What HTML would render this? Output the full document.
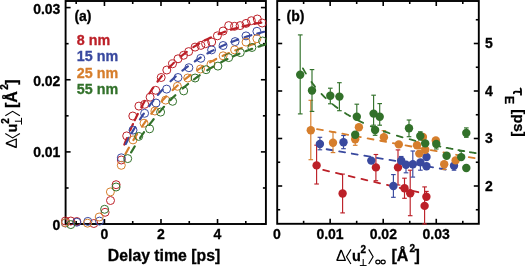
<!DOCTYPE html><html><head><meta charset="utf-8"><style>html,body{margin:0;padding:0;background:#fff;overflow:hidden}svg{display:block;will-change:transform}</style></head><body>
<svg width="525" height="266" viewBox="0 0 525 266">
<rect x="65.6" y="1.0" width="200.29999999999998" height="223.0" fill="none" stroke="#000" stroke-width="1.9"/>
<line x1="65.6" y1="224.05" x2="70.6" y2="224.05" stroke="#000" stroke-width="1.6"/><line x1="265.9" y1="224.05" x2="260.9" y2="224.05" stroke="#000" stroke-width="1.6"/><line x1="65.6" y1="187.98" x2="68.6" y2="187.98" stroke="#000" stroke-width="1.6"/><line x1="265.9" y1="187.98" x2="262.9" y2="187.98" stroke="#000" stroke-width="1.6"/><line x1="65.6" y1="151.90" x2="70.6" y2="151.90" stroke="#000" stroke-width="1.6"/><line x1="265.9" y1="151.90" x2="260.9" y2="151.90" stroke="#000" stroke-width="1.6"/><line x1="65.6" y1="115.83" x2="68.6" y2="115.83" stroke="#000" stroke-width="1.6"/><line x1="265.9" y1="115.83" x2="262.9" y2="115.83" stroke="#000" stroke-width="1.6"/><line x1="65.6" y1="79.75" x2="70.6" y2="79.75" stroke="#000" stroke-width="1.6"/><line x1="265.9" y1="79.75" x2="260.9" y2="79.75" stroke="#000" stroke-width="1.6"/><line x1="65.6" y1="43.68" x2="68.6" y2="43.68" stroke="#000" stroke-width="1.6"/><line x1="265.9" y1="43.68" x2="262.9" y2="43.68" stroke="#000" stroke-width="1.6"/><line x1="65.6" y1="7.60" x2="70.6" y2="7.60" stroke="#000" stroke-width="1.6"/><line x1="265.9" y1="7.60" x2="260.9" y2="7.60" stroke="#000" stroke-width="1.6"/><line x1="76.18" y1="224.0" x2="76.18" y2="221.0" stroke="#000" stroke-width="1.6"/><line x1="76.18" y1="1.0" x2="76.18" y2="4.0" stroke="#000" stroke-width="1.6"/><line x1="104.45" y1="224.0" x2="104.45" y2="219.0" stroke="#000" stroke-width="1.6"/><line x1="104.45" y1="1.0" x2="104.45" y2="6.0" stroke="#000" stroke-width="1.6"/><line x1="132.72" y1="224.0" x2="132.72" y2="221.0" stroke="#000" stroke-width="1.6"/><line x1="132.72" y1="1.0" x2="132.72" y2="4.0" stroke="#000" stroke-width="1.6"/><line x1="160.99" y1="224.0" x2="160.99" y2="219.0" stroke="#000" stroke-width="1.6"/><line x1="160.99" y1="1.0" x2="160.99" y2="6.0" stroke="#000" stroke-width="1.6"/><line x1="189.26" y1="224.0" x2="189.26" y2="221.0" stroke="#000" stroke-width="1.6"/><line x1="189.26" y1="1.0" x2="189.26" y2="4.0" stroke="#000" stroke-width="1.6"/><line x1="217.53" y1="224.0" x2="217.53" y2="219.0" stroke="#000" stroke-width="1.6"/><line x1="217.53" y1="1.0" x2="217.53" y2="6.0" stroke="#000" stroke-width="1.6"/><line x1="245.80" y1="224.0" x2="245.80" y2="221.0" stroke="#000" stroke-width="1.6"/><line x1="245.80" y1="1.0" x2="245.80" y2="4.0" stroke="#000" stroke-width="1.6"/>
<rect x="277.2" y="1.0" width="201.60000000000002" height="222.8" fill="none" stroke="#000" stroke-width="1.9"/>
<line x1="277.2" y1="209.75" x2="280.2" y2="209.75" stroke="#000" stroke-width="1.6"/><line x1="478.8" y1="209.75" x2="475.8" y2="209.75" stroke="#000" stroke-width="1.6"/><line x1="277.2" y1="186.00" x2="282.2" y2="186.00" stroke="#000" stroke-width="1.6"/><line x1="478.8" y1="186.00" x2="473.8" y2="186.00" stroke="#000" stroke-width="1.6"/><line x1="277.2" y1="162.25" x2="280.2" y2="162.25" stroke="#000" stroke-width="1.6"/><line x1="478.8" y1="162.25" x2="475.8" y2="162.25" stroke="#000" stroke-width="1.6"/><line x1="277.2" y1="138.50" x2="282.2" y2="138.50" stroke="#000" stroke-width="1.6"/><line x1="478.8" y1="138.50" x2="473.8" y2="138.50" stroke="#000" stroke-width="1.6"/><line x1="277.2" y1="114.75" x2="280.2" y2="114.75" stroke="#000" stroke-width="1.6"/><line x1="478.8" y1="114.75" x2="475.8" y2="114.75" stroke="#000" stroke-width="1.6"/><line x1="277.2" y1="91.00" x2="282.2" y2="91.00" stroke="#000" stroke-width="1.6"/><line x1="478.8" y1="91.00" x2="473.8" y2="91.00" stroke="#000" stroke-width="1.6"/><line x1="277.2" y1="67.25" x2="280.2" y2="67.25" stroke="#000" stroke-width="1.6"/><line x1="478.8" y1="67.25" x2="475.8" y2="67.25" stroke="#000" stroke-width="1.6"/><line x1="277.2" y1="43.50" x2="282.2" y2="43.50" stroke="#000" stroke-width="1.6"/><line x1="478.8" y1="43.50" x2="473.8" y2="43.50" stroke="#000" stroke-width="1.6"/><line x1="277.2" y1="19.75" x2="280.2" y2="19.75" stroke="#000" stroke-width="1.6"/><line x1="478.8" y1="19.75" x2="475.8" y2="19.75" stroke="#000" stroke-width="1.6"/><line x1="303.63" y1="223.8" x2="303.63" y2="220.8" stroke="#000" stroke-width="1.6"/><line x1="303.63" y1="1.0" x2="303.63" y2="4.0" stroke="#000" stroke-width="1.6"/><line x1="330.15" y1="223.8" x2="330.15" y2="218.8" stroke="#000" stroke-width="1.6"/><line x1="330.15" y1="1.0" x2="330.15" y2="6.0" stroke="#000" stroke-width="1.6"/><line x1="356.68" y1="223.8" x2="356.68" y2="220.8" stroke="#000" stroke-width="1.6"/><line x1="356.68" y1="1.0" x2="356.68" y2="4.0" stroke="#000" stroke-width="1.6"/><line x1="383.21" y1="223.8" x2="383.21" y2="218.8" stroke="#000" stroke-width="1.6"/><line x1="383.21" y1="1.0" x2="383.21" y2="6.0" stroke="#000" stroke-width="1.6"/><line x1="409.74" y1="223.8" x2="409.74" y2="220.8" stroke="#000" stroke-width="1.6"/><line x1="409.74" y1="1.0" x2="409.74" y2="4.0" stroke="#000" stroke-width="1.6"/><line x1="436.26" y1="223.8" x2="436.26" y2="218.8" stroke="#000" stroke-width="1.6"/><line x1="436.26" y1="1.0" x2="436.26" y2="6.0" stroke="#000" stroke-width="1.6"/><line x1="462.79" y1="223.8" x2="462.79" y2="220.8" stroke="#000" stroke-width="1.6"/><line x1="462.79" y1="1.0" x2="462.79" y2="4.0" stroke="#000" stroke-width="1.6"/>
<text x="60.4" y="230.4" font-family="Liberation Sans, sans-serif" font-weight="bold" stroke="#000" stroke-width="0.3" font-size="14" text-anchor="end">0</text>
<text x="60.4" y="157.0" font-family="Liberation Sans, sans-serif" font-weight="bold" stroke="#000" stroke-width="0.3" font-size="14" text-anchor="end">0.01</text>
<text x="60.4" y="85.5" font-family="Liberation Sans, sans-serif" font-weight="bold" stroke="#000" stroke-width="0.3" font-size="14" text-anchor="end">0.02</text>
<text x="60.4" y="13.8" font-family="Liberation Sans, sans-serif" font-weight="bold" stroke="#000" stroke-width="0.3" font-size="14" text-anchor="end">0.03</text>
<text x="104.5" y="239.4" font-family="Liberation Sans, sans-serif" font-weight="bold" stroke="#000" stroke-width="0.3" font-size="14" text-anchor="middle">0</text>
<text x="161.0" y="239.4" font-family="Liberation Sans, sans-serif" font-weight="bold" stroke="#000" stroke-width="0.3" font-size="14" text-anchor="middle">2</text>
<text x="217.5" y="239.4" font-family="Liberation Sans, sans-serif" font-weight="bold" stroke="#000" stroke-width="0.3" font-size="14" text-anchor="middle">4</text>
<text x="164" y="261.3" font-family="Liberation Sans, sans-serif" font-weight="bold" stroke="#000" stroke-width="0.3" font-size="15.8" text-anchor="middle">Delay time [ps]</text>
<text x="277" y="239.4" font-family="Liberation Sans, sans-serif" font-weight="bold" stroke="#000" stroke-width="0.3" font-size="14" text-anchor="middle">0</text>
<text x="330" y="239.4" font-family="Liberation Sans, sans-serif" font-weight="bold" stroke="#000" stroke-width="0.3" font-size="14" text-anchor="middle">0.01</text>
<text x="383.3" y="239.4" font-family="Liberation Sans, sans-serif" font-weight="bold" stroke="#000" stroke-width="0.3" font-size="14" text-anchor="middle">0.02</text>
<text x="436.2" y="239.4" font-family="Liberation Sans, sans-serif" font-weight="bold" stroke="#000" stroke-width="0.3" font-size="14" text-anchor="middle">0.03</text>
<text x="485" y="190.7" font-family="Liberation Sans, sans-serif" font-weight="bold" stroke="#000" stroke-width="0.3" font-size="14">2</text>
<text x="485" y="143.2" font-family="Liberation Sans, sans-serif" font-weight="bold" stroke="#000" stroke-width="0.3" font-size="14">3</text>
<text x="485" y="95.7" font-family="Liberation Sans, sans-serif" font-weight="bold" stroke="#000" stroke-width="0.3" font-size="14">4</text>
<text x="485" y="48.2" font-family="Liberation Sans, sans-serif" font-weight="bold" stroke="#000" stroke-width="0.3" font-size="14">5</text>
<text x="74.4" y="20.9" font-family="Liberation Sans, sans-serif" font-weight="bold" stroke="#000" stroke-width="0.3" font-size="14">(a)</text>
<text x="286.6" y="20.9" font-family="Liberation Sans, sans-serif" font-weight="bold" stroke="#000" stroke-width="0.3" font-size="14">(b)</text>
<text x="76.8" y="44.5" font-family="Liberation Sans, sans-serif" font-weight="bold" stroke="#bc2028" stroke-width="0.3" font-size="14.3" fill="#bc2028">8 nm</text>
<text x="76.8" y="61.3" font-family="Liberation Sans, sans-serif" font-weight="bold" stroke="#39499f" stroke-width="0.3" font-size="14.3" fill="#39499f">15 nm</text>
<text x="76.8" y="77.9" font-family="Liberation Sans, sans-serif" font-weight="bold" stroke="#d67e2c" stroke-width="0.3" font-size="14.3" fill="#d67e2c">25 nm</text>
<text x="76.8" y="94.0" font-family="Liberation Sans, sans-serif" font-weight="bold" stroke="#32712a" stroke-width="0.3" font-size="14.3" fill="#32712a">55 nm</text>
<g transform="translate(16.9,148.1) rotate(-90)"><path d="M4.9,-10.9 L0.8,-0.6 M4.9,-10.9 L9.1,-0.6 M0.4,-0.65 L9.5,-0.65" fill="none" stroke="#000" stroke-width="1.3" stroke-linejoin="miter"/><path d="M4.4,-11.2 L0.3,-0.6" stroke="#000" stroke-width="0.8"/><polyline points="14.6,-11.6 10.2,-4.3 14.6,3" fill="none" stroke="#000" stroke-width="1.15"/><text x="15.6" y="0" font-family="Liberation Sans, sans-serif" font-weight="bold" stroke="#000" stroke-width="0.3" font-size="14.5">u</text><text x="24.3" y="-8.3" font-family="Liberation Sans, sans-serif" font-weight="bold" stroke="#000" stroke-width="0.3" font-size="10">2</text><line x1="26.9" y1="-2" x2="26.9" y2="4.6" stroke="#000" stroke-width="1.05"/><line x1="23.5" y1="4.6" x2="30.3" y2="4.6" stroke="#000" stroke-width="1.05"/><polyline points="32.4,-11.6 36.8,-4.3 32.4,3" fill="none" stroke="#000" stroke-width="1.15"/><text x="40.1" y="0" font-family="Liberation Sans, sans-serif" font-weight="bold" stroke="#000" stroke-width="0.3" font-size="16">[Å</text><text x="58.3" y="-8.6" font-family="Liberation Sans, sans-serif" font-weight="bold" stroke="#000" stroke-width="0.3" font-size="10">2</text><text x="63.3" y="0" font-family="Liberation Sans, sans-serif" font-weight="bold" stroke="#000" stroke-width="0.3" font-size="16">]</text></g>
<g transform="translate(336.3,261)"><path d="M4.9,-10.9 L0.8,-0.6 M4.9,-10.9 L9.1,-0.6 M0.4,-0.65 L9.5,-0.65" fill="none" stroke="#000" stroke-width="1.3" stroke-linejoin="miter"/><path d="M4.4,-11.2 L0.3,-0.6" stroke="#000" stroke-width="0.8"/><polyline points="14.6,-11.6 10.2,-4.3 14.6,3" fill="none" stroke="#000" stroke-width="1.15"/><text x="15.6" y="0" font-family="Liberation Sans, sans-serif" font-weight="bold" stroke="#000" stroke-width="0.3" font-size="14.5">u</text><text x="24.3" y="-8.3" font-family="Liberation Sans, sans-serif" font-weight="bold" stroke="#000" stroke-width="0.3" font-size="10">2</text><line x1="26.9" y1="-2" x2="26.9" y2="4.6" stroke="#000" stroke-width="1.05"/><line x1="23.5" y1="4.6" x2="30.3" y2="4.6" stroke="#000" stroke-width="1.05"/><polyline points="32.4,-11.6 36.8,-4.3 32.4,3" fill="none" stroke="#000" stroke-width="1.15"/><ellipse cx="41.6" cy="1" rx="2.1" ry="1.85" fill="none" stroke="#000" stroke-width="1.2"/><ellipse cx="46.8" cy="1" rx="2.1" ry="1.85" fill="none" stroke="#000" stroke-width="1.2"/><text x="55.1" y="0" font-family="Liberation Sans, sans-serif" font-weight="bold" stroke="#000" stroke-width="0.3" font-size="16">[Å</text><text x="73.3" y="-8.6" font-family="Liberation Sans, sans-serif" font-weight="bold" stroke="#000" stroke-width="0.3" font-size="10">2</text><text x="78.3" y="0" font-family="Liberation Sans, sans-serif" font-weight="bold" stroke="#000" stroke-width="0.3" font-size="16">]</text></g>
<g transform="translate(513.7,87.6) rotate(90)"><path d="M0.5,-6.2 C0.8,-7.1 1.5,-7.3 2.5,-7.3 L7.8,-7.3 M4.4,-7.3 L4,-2.2 C3.9,-0.4 4.8,0.1 6.3,-0.3" fill="none" stroke="#000" stroke-width="1.8"/><text x="8.4" y="8.4" font-family="Liberation Sans, sans-serif" font-weight="bold" stroke="#000" stroke-width="0.3" font-size="12.3">E</text><text x="21.7" y="0" font-family="Liberation Sans, sans-serif" font-weight="bold" stroke="#000" stroke-width="0.3" font-size="15">[ps]</text></g>
<g>
<path d="M124.35,144.57 L124.71,143.64 L125.08,142.70 L125.44,141.77 L125.81,140.84 L126.18,139.91 L126.55,138.99 L126.93,138.06M130.13,130.41 L130.53,129.50 L130.93,128.58 L131.33,127.67 L131.74,126.75 L132.14,125.84 L132.56,124.93 L132.97,124.02M134.76,120.17 L135.19,119.26 L135.63,118.36 L136.06,117.46 L136.50,116.56 L136.94,115.67 L137.39,114.77 L137.84,113.88M141.30,107.24 L141.78,106.36 L142.26,105.48 L142.74,104.61 L143.23,103.74 L143.72,102.86 L144.21,102.00 L144.71,101.13M149.39,93.40 L149.92,92.56 L150.46,91.72 L151.01,90.88 L151.56,90.04 L152.11,89.21 L152.67,88.38 L153.23,87.56M157.54,81.53 L158.14,80.73 L158.74,79.93 L159.35,79.14 L159.97,78.35 L160.58,77.57 L161.21,76.78 L161.84,76.01M168.98,67.81 L169.66,67.08 L170.35,66.36 L171.05,65.64 L171.75,64.92 L172.46,64.22 L173.17,63.51 L173.88,62.81M181.23,56.19 L182.00,55.55 L182.78,54.91 L183.56,54.29 L184.34,53.67 L185.13,53.05 L185.92,52.44 L186.72,51.84M193.31,47.20 L194.14,46.65 L194.99,46.11 L195.83,45.58 L196.68,45.05 L197.53,44.53 L198.39,44.02 L199.25,43.51M204.67,40.51 L205.55,40.04 L206.44,39.59 L207.34,39.14 L208.23,38.70 L209.13,38.26 L210.04,37.83 L210.94,37.41M218.62,34.11 L219.55,33.74 L220.48,33.38 L221.41,33.02 L222.35,32.67 L223.29,32.33 L224.23,31.99 L225.17,31.66M230.94,29.75 L231.90,29.46 L232.85,29.17 L233.81,28.88 L234.77,28.60 L235.73,28.33 L236.70,28.06 L237.66,27.79M242.59,26.51 L243.56,26.28 L244.54,26.04 L245.51,25.81 L246.48,25.59 L247.46,25.37 L248.43,25.15 L249.41,24.94M254.40,23.91 L255.39,23.72 L256.37,23.54 L257.35,23.35 L258.33,23.17 L259.32,23.00 L260.30,22.82 L261.29,22.66" fill="none" stroke="#bc2028" stroke-width="2.2" stroke-linecap="round"/>
<circle cx="65.4" cy="221.0" r="4.0" fill="none" stroke="#bc2028" stroke-width="1.0"/>
<circle cx="70.8" cy="221.0" r="4.0" fill="none" stroke="#bc2028" stroke-width="1.0"/>
<circle cx="76.8" cy="221.5" r="4.0" fill="none" stroke="#bc2028" stroke-width="1.0"/>
<circle cx="93.8" cy="223.5" r="4.0" fill="none" stroke="#bc2028" stroke-width="1.0"/>
<circle cx="105.1" cy="212.3" r="4.0" fill="none" stroke="#bc2028" stroke-width="1.0"/>
<circle cx="110.5" cy="200.5" r="4.0" fill="none" stroke="#bc2028" stroke-width="1.0"/>
<circle cx="116.1" cy="184.7" r="4.0" fill="none" stroke="#bc2028" stroke-width="1.0"/>
<circle cx="121.3" cy="160.0" r="4.0" fill="none" stroke="#bc2028" stroke-width="1.0"/>
<circle cx="126.7" cy="135.9" r="4.0" fill="none" stroke="#bc2028" stroke-width="1.0"/>
<circle cx="132.8" cy="116.0" r="4.0" fill="none" stroke="#bc2028" stroke-width="1.0"/>
<circle cx="138.9" cy="106.1" r="4.0" fill="none" stroke="#bc2028" stroke-width="1.0"/>
<circle cx="144.7" cy="104.3" r="4.0" fill="none" stroke="#bc2028" stroke-width="1.0"/>
<circle cx="150.1" cy="97.2" r="4.0" fill="none" stroke="#bc2028" stroke-width="1.0"/>
<circle cx="155.7" cy="90.3" r="4.0" fill="none" stroke="#bc2028" stroke-width="1.0"/>
<circle cx="161.2" cy="77.5" r="4.0" fill="none" stroke="#bc2028" stroke-width="1.0"/>
<circle cx="166.8" cy="70.0" r="4.0" fill="none" stroke="#bc2028" stroke-width="1.0"/>
<circle cx="172.5" cy="63.8" r="4.0" fill="none" stroke="#bc2028" stroke-width="1.0"/>
<circle cx="178.0" cy="58.8" r="4.0" fill="none" stroke="#bc2028" stroke-width="1.0"/>
<circle cx="183.5" cy="55.3" r="4.0" fill="none" stroke="#bc2028" stroke-width="1.0"/>
<circle cx="188.7" cy="51.6" r="4.0" fill="none" stroke="#bc2028" stroke-width="1.0"/>
<circle cx="195.1" cy="47.1" r="4.0" fill="none" stroke="#bc2028" stroke-width="1.0"/>
<circle cx="200.9" cy="45.4" r="4.0" fill="none" stroke="#bc2028" stroke-width="1.0"/>
<circle cx="205.6" cy="43.7" r="4.0" fill="none" stroke="#bc2028" stroke-width="1.0"/>
<circle cx="211.7" cy="42.0" r="4.0" fill="none" stroke="#bc2028" stroke-width="1.0"/>
<circle cx="217.4" cy="35.8" r="4.0" fill="none" stroke="#bc2028" stroke-width="1.0"/>
<circle cx="223.1" cy="31.0" r="4.0" fill="none" stroke="#bc2028" stroke-width="1.0"/>
<circle cx="228.7" cy="25.6" r="4.0" fill="none" stroke="#bc2028" stroke-width="1.0"/>
<circle cx="234.5" cy="26.3" r="4.0" fill="none" stroke="#bc2028" stroke-width="1.0"/>
<circle cx="240.1" cy="25.6" r="4.0" fill="none" stroke="#bc2028" stroke-width="1.0"/>
<circle cx="246.1" cy="23.4" r="4.0" fill="none" stroke="#bc2028" stroke-width="1.0"/>
<circle cx="251.4" cy="20.7" r="4.0" fill="none" stroke="#bc2028" stroke-width="1.0"/>
<circle cx="257.3" cy="19.0" r="4.0" fill="none" stroke="#bc2028" stroke-width="1.0"/>
<circle cx="262.2" cy="23.0" r="4.0" fill="none" stroke="#bc2028" stroke-width="1.0"/>
<path d="M125.74,143.92 L126.21,143.04 L126.67,142.15 L127.14,141.27 L127.62,140.39 L128.09,139.51 L128.57,138.63 L129.05,137.75M131.63,133.13 L132.13,132.26 L132.63,131.39 L133.13,130.53 L133.63,129.67 L134.14,128.80 L134.65,127.94 L135.16,127.09M139.96,119.38 L140.51,118.54 L141.06,117.70 L141.61,116.87 L142.16,116.03 L142.71,115.20 L143.27,114.37 L143.84,113.55M149.17,106.05 L149.77,105.25 L150.37,104.45 L150.97,103.65 L151.58,102.85 L152.19,102.06 L152.80,101.27 L153.42,100.49M157.99,94.89 L158.64,94.12 L159.29,93.36 L159.94,92.61 L160.60,91.85 L161.26,91.10 L161.93,90.36 L162.60,89.61M170.59,81.29 L171.30,80.59 L172.02,79.89 L172.75,79.20 L173.47,78.51 L174.20,77.83 L174.94,77.15 L175.67,76.48M182.40,70.66 L183.17,70.02 L183.95,69.40 L184.73,68.77 L185.51,68.15 L186.30,67.54 L187.09,66.92 L187.89,66.32M194.82,61.33 L195.65,60.76 L196.48,60.21 L197.31,59.65 L198.15,59.11 L198.99,58.56 L199.83,58.02 L200.67,57.49M207.42,53.47 L208.29,52.98 L209.17,52.49 L210.04,52.01 L210.92,51.53 L211.81,51.06 L212.69,50.60 L213.58,50.14M219.71,47.11 L220.61,46.68 L221.52,46.26 L222.43,45.85 L223.34,45.44 L224.26,45.03 L225.17,44.63 L226.09,44.23M231.52,42.00 L232.45,41.63 L233.38,41.27 L234.32,40.91 L235.25,40.56 L236.19,40.21 L237.13,39.87 L238.07,39.53M244.65,37.28 L245.61,36.97 L246.56,36.67 L247.51,36.37 L248.47,36.07 L249.42,35.78 L250.38,35.49 L251.34,35.21M257.31,33.53 L258.27,33.27 L259.24,33.01 L260.21,32.76 L261.18,32.51 L262.15,32.27 L263.12,32.03 L264.09,31.79" fill="none" stroke="#39499f" stroke-width="2.2" stroke-linecap="round"/>
<circle cx="65.4" cy="223.0" r="4.0" fill="none" stroke="#39499f" stroke-width="1.0"/>
<circle cx="76.8" cy="222.2" r="4.0" fill="none" stroke="#39499f" stroke-width="1.0"/>
<circle cx="87.8" cy="221.4" r="4.0" fill="none" stroke="#39499f" stroke-width="1.0"/>
<circle cx="99.5" cy="221.1" r="4.0" fill="none" stroke="#39499f" stroke-width="1.0"/>
<circle cx="121.3" cy="157.8" r="4.0" fill="none" stroke="#39499f" stroke-width="1.0"/>
<circle cx="133.0" cy="130.1" r="4.0" fill="none" stroke="#39499f" stroke-width="1.0"/>
<circle cx="144.6" cy="113.3" r="4.0" fill="none" stroke="#39499f" stroke-width="1.0"/>
<circle cx="156.0" cy="103.0" r="4.0" fill="none" stroke="#39499f" stroke-width="1.0"/>
<circle cx="166.6" cy="89.1" r="4.0" fill="none" stroke="#39499f" stroke-width="1.0"/>
<circle cx="178.0" cy="77.5" r="4.0" fill="none" stroke="#39499f" stroke-width="1.0"/>
<circle cx="188.9" cy="67.7" r="4.0" fill="none" stroke="#39499f" stroke-width="1.0"/>
<circle cx="200.8" cy="58.3" r="4.0" fill="none" stroke="#39499f" stroke-width="1.0"/>
<circle cx="211.6" cy="49.9" r="4.0" fill="none" stroke="#39499f" stroke-width="1.0"/>
<circle cx="223.1" cy="45.5" r="4.0" fill="none" stroke="#39499f" stroke-width="1.0"/>
<circle cx="235.1" cy="41.6" r="4.0" fill="none" stroke="#39499f" stroke-width="1.0"/>
<circle cx="246.0" cy="35.9" r="4.0" fill="none" stroke="#39499f" stroke-width="1.0"/>
<circle cx="256.9" cy="31.3" r="4.0" fill="none" stroke="#39499f" stroke-width="1.0"/>
<path d="M125.55,153.81 L126.02,152.93 L126.50,152.05 L126.98,151.18 L127.46,150.30 L127.95,149.43 L128.44,148.55 L128.93,147.68M133.42,139.99 L133.94,139.14 L134.46,138.28 L134.98,137.43 L135.51,136.58 L136.04,135.73 L136.57,134.89 L137.10,134.04M141.99,126.60 L142.55,125.78 L143.12,124.95 L143.69,124.13 L144.27,123.31 L144.84,122.49 L145.42,121.68 L146.00,120.87M151.33,113.74 L151.95,112.95 L152.57,112.16 L153.19,111.38 L153.81,110.60 L154.44,109.82 L155.07,109.04 L155.71,108.27M161.51,101.52 L162.18,100.78 L162.86,100.04 L163.53,99.30 L164.21,98.57 L164.90,97.84 L165.58,97.11 L166.27,96.39M172.58,90.10 L173.30,89.41 L174.03,88.73 L174.76,88.05 L175.50,87.37 L176.24,86.70 L176.98,86.03 L177.73,85.36M184.97,79.25 L185.75,78.63 L186.54,78.01 L187.33,77.39 L188.12,76.78 L188.92,76.18 L189.71,75.58 L190.52,74.98M197.17,70.28 L198.00,69.72 L198.83,69.17 L199.67,68.62 L200.51,68.08 L201.35,67.54 L202.20,67.01 L203.05,66.48M210.06,62.33 L210.93,61.85 L211.81,61.36 L212.69,60.89 L213.57,60.41 L214.45,59.94 L215.34,59.48 L216.22,59.02M222.56,55.90 L223.46,55.47 L224.37,55.05 L225.28,54.64 L226.19,54.23 L227.11,53.82 L228.02,53.42 L228.94,53.02M235.27,50.42 L236.20,50.05 L237.14,49.69 L238.07,49.34 L239.01,48.99 L239.95,48.64 L240.88,48.30 L241.83,47.96M248.30,45.74 L249.25,45.43 L250.21,45.12 L251.16,44.82 L252.11,44.52 L253.07,44.23 L254.03,43.94 L254.98,43.65" fill="none" stroke="#d67e2c" stroke-width="2.2" stroke-linecap="round"/>
<circle cx="65.4" cy="222.8" r="4.0" fill="none" stroke="#d67e2c" stroke-width="1.0"/>
<circle cx="87.5" cy="223.2" r="4.0" fill="none" stroke="#d67e2c" stroke-width="1.0"/>
<circle cx="99.2" cy="217.0" r="4.0" fill="none" stroke="#d67e2c" stroke-width="1.0"/>
<circle cx="110.4" cy="191.9" r="4.0" fill="none" stroke="#d67e2c" stroke-width="1.0"/>
<circle cx="121.3" cy="165.3" r="4.0" fill="none" stroke="#d67e2c" stroke-width="1.0"/>
<circle cx="133.0" cy="139.9" r="4.0" fill="none" stroke="#d67e2c" stroke-width="1.0"/>
<circle cx="144.0" cy="123.2" r="4.0" fill="none" stroke="#d67e2c" stroke-width="1.0"/>
<circle cx="154.9" cy="111.0" r="4.0" fill="none" stroke="#d67e2c" stroke-width="1.0"/>
<circle cx="165.7" cy="100.1" r="4.0" fill="none" stroke="#d67e2c" stroke-width="1.0"/>
<circle cx="177.4" cy="86.3" r="4.0" fill="none" stroke="#d67e2c" stroke-width="1.0"/>
<circle cx="187.7" cy="78.0" r="4.0" fill="none" stroke="#d67e2c" stroke-width="1.0"/>
<circle cx="200.5" cy="69.0" r="4.0" fill="none" stroke="#d67e2c" stroke-width="1.0"/>
<circle cx="211.0" cy="64.3" r="4.0" fill="none" stroke="#d67e2c" stroke-width="1.0"/>
<circle cx="223.1" cy="55.8" r="4.0" fill="none" stroke="#d67e2c" stroke-width="1.0"/>
<circle cx="234.6" cy="49.9" r="4.0" fill="none" stroke="#d67e2c" stroke-width="1.0"/>
<circle cx="246.0" cy="42.1" r="4.0" fill="none" stroke="#d67e2c" stroke-width="1.0"/>
<circle cx="256.9" cy="38.7" r="4.0" fill="none" stroke="#d67e2c" stroke-width="1.0"/>
<path d="M131.13,152.42 L131.64,151.56 L132.15,150.70 L132.66,149.84 L133.18,148.98 L133.69,148.13 L134.21,147.27 L134.74,146.42M140.08,138.04 L140.63,137.20 L141.19,136.37 L141.75,135.54 L142.31,134.71 L142.87,133.89 L143.44,133.06 L144.01,132.24M149.37,124.79 L149.97,123.99 L150.57,123.19 L151.17,122.39 L151.78,121.60 L152.39,120.81 L153.01,120.02 L153.62,119.23M159.44,112.12 L160.09,111.36 L160.74,110.60 L161.39,109.85 L162.05,109.10 L162.71,108.35 L163.38,107.60 L164.05,106.86M170.34,100.17 L171.04,99.45 L171.74,98.74 L172.45,98.04 L173.16,97.33 L173.88,96.63 L174.59,95.94 L175.31,95.24M182.70,88.51 L183.46,87.85 L184.22,87.20 L184.98,86.55 L185.75,85.91 L186.52,85.27 L187.29,84.64 L188.06,84.01M194.01,79.37 L194.81,78.77 L195.62,78.18 L196.42,77.59 L197.23,77.00 L198.05,76.42 L198.86,75.84 L199.68,75.27M207.25,70.25 L208.10,69.72 L208.95,69.19 L209.80,68.67 L210.65,68.15 L211.51,67.64 L212.37,67.13 L213.23,66.62M221.17,62.22 L222.06,61.76 L222.95,61.30 L223.84,60.84 L224.73,60.39 L225.63,59.94 L226.52,59.50 L227.42,59.06M233.04,56.44 L233.95,56.03 L234.87,55.62 L235.78,55.22 L236.70,54.83 L237.62,54.43 L238.54,54.04 L239.46,53.66M245.61,51.21 L246.54,50.86 L247.48,50.50 L248.42,50.16 L249.36,49.81 L250.30,49.47 L251.24,49.14 L252.18,48.80M258.45,46.69 L259.40,46.38 L260.36,46.08 L261.31,45.78 L262.26,45.49 L263.22,45.19 L264.18,44.90 L265.14,44.62" fill="none" stroke="#32712a" stroke-width="2.2" stroke-linecap="round"/>
<circle cx="70.8" cy="224.6" r="4.0" fill="none" stroke="#32712a" stroke-width="1.0"/>
<circle cx="104.6" cy="209.3" r="4.0" fill="none" stroke="#32712a" stroke-width="1.0"/>
<circle cx="116.1" cy="187.0" r="4.0" fill="none" stroke="#32712a" stroke-width="1.0"/>
<circle cx="127.7" cy="158.6" r="4.0" fill="none" stroke="#32712a" stroke-width="1.0"/>
<circle cx="138.7" cy="136.4" r="4.0" fill="none" stroke="#32712a" stroke-width="1.0"/>
<circle cx="149.6" cy="128.8" r="4.0" fill="none" stroke="#32712a" stroke-width="1.0"/>
<circle cx="160.6" cy="112.1" r="4.0" fill="none" stroke="#32712a" stroke-width="1.0"/>
<circle cx="172.6" cy="101.3" r="4.0" fill="none" stroke="#32712a" stroke-width="1.0"/>
<circle cx="183.7" cy="90.9" r="4.0" fill="none" stroke="#32712a" stroke-width="1.0"/>
<circle cx="195.1" cy="78.0" r="4.0" fill="none" stroke="#32712a" stroke-width="1.0"/>
<circle cx="206.1" cy="69.7" r="4.0" fill="none" stroke="#32712a" stroke-width="1.0"/>
<circle cx="217.9" cy="66.1" r="4.0" fill="none" stroke="#32712a" stroke-width="1.0"/>
<circle cx="228.7" cy="57.6" r="4.0" fill="none" stroke="#32712a" stroke-width="1.0"/>
<circle cx="240.3" cy="52.6" r="4.0" fill="none" stroke="#32712a" stroke-width="1.0"/>
<circle cx="251.9" cy="47.5" r="4.0" fill="none" stroke="#32712a" stroke-width="1.0"/>
<circle cx="262.6" cy="41.0" r="4.0" fill="none" stroke="#32712a" stroke-width="1.0"/>
</g>
<polyline points="323.20,169.93 418.50,192.29" fill="none" stroke="#bc2028" stroke-width="1.8" stroke-dasharray="6 7.1" stroke-linecap="round"/>
<line x1="316.6" y1="145.2" x2="316.6" y2="165.4" stroke="#bc2028" stroke-width="1.15"/><line x1="314.3" y1="145.2" x2="318.9" y2="145.2" stroke="#bc2028" stroke-width="1.15"/><line x1="316.6" y1="165.4" x2="316.6" y2="184.0" stroke="#bc2028" stroke-width="1.15"/><line x1="314.3" y1="184.0" x2="318.9" y2="184.0" stroke="#bc2028" stroke-width="1.15"/>
<line x1="342.6" y1="174.1" x2="342.6" y2="193.5" stroke="#bc2028" stroke-width="1.15"/><line x1="340.3" y1="174.1" x2="344.9" y2="174.1" stroke="#bc2028" stroke-width="1.15"/><line x1="342.6" y1="193.5" x2="342.6" y2="212.9" stroke="#bc2028" stroke-width="1.15"/><line x1="340.3" y1="212.9" x2="344.9" y2="212.9" stroke="#bc2028" stroke-width="1.15"/>
<line x1="375.9" y1="154.5" x2="375.9" y2="167.4" stroke="#bc2028" stroke-width="1.15"/><line x1="373.6" y1="154.5" x2="378.2" y2="154.5" stroke="#bc2028" stroke-width="1.15"/><line x1="375.9" y1="167.4" x2="375.9" y2="180.7" stroke="#bc2028" stroke-width="1.15"/><line x1="373.6" y1="180.7" x2="378.2" y2="180.7" stroke="#bc2028" stroke-width="1.15"/>
<line x1="398.0" y1="149.9" x2="398.0" y2="167.4" stroke="#bc2028" stroke-width="1.15"/><line x1="395.7" y1="149.9" x2="400.3" y2="149.9" stroke="#bc2028" stroke-width="1.15"/><line x1="398.0" y1="167.4" x2="398.0" y2="185.0" stroke="#bc2028" stroke-width="1.15"/><line x1="395.7" y1="185.0" x2="400.3" y2="185.0" stroke="#bc2028" stroke-width="1.15"/>
<line x1="404.5" y1="178.2" x2="404.5" y2="188.3" stroke="#bc2028" stroke-width="1.15"/><line x1="402.2" y1="178.2" x2="406.8" y2="178.2" stroke="#bc2028" stroke-width="1.15"/><line x1="404.5" y1="188.3" x2="404.5" y2="198.3" stroke="#bc2028" stroke-width="1.15"/><line x1="402.2" y1="198.3" x2="406.8" y2="198.3" stroke="#bc2028" stroke-width="1.15"/>
<line x1="410.2" y1="170.2" x2="410.2" y2="193.3" stroke="#bc2028" stroke-width="1.15"/><line x1="407.9" y1="170.2" x2="412.5" y2="170.2" stroke="#bc2028" stroke-width="1.15"/><line x1="410.2" y1="193.3" x2="410.2" y2="215.7" stroke="#bc2028" stroke-width="1.15"/><line x1="407.9" y1="215.7" x2="412.5" y2="215.7" stroke="#bc2028" stroke-width="1.15"/>
<line x1="426.4" y1="191.4" x2="426.4" y2="196.8" stroke="#bc2028" stroke-width="1.15"/><line x1="424.1" y1="191.4" x2="428.7" y2="191.4" stroke="#bc2028" stroke-width="1.15"/>
<line x1="424.6" y1="186.9" x2="424.6" y2="205.9" stroke="#bc2028" stroke-width="1.15"/><line x1="422.3" y1="186.9" x2="426.9" y2="186.9" stroke="#bc2028" stroke-width="1.15"/><line x1="424.6" y1="205.9" x2="424.6" y2="224.0" stroke="#bc2028" stroke-width="1.15"/><line x1="422.3" y1="224.0" x2="426.9" y2="224.0" stroke="#bc2028" stroke-width="1.15"/>
<circle cx="316.6" cy="165.4" r="4.2" fill="#bc2028"/>
<circle cx="342.6" cy="193.5" r="4.2" fill="#bc2028"/>
<circle cx="375.9" cy="167.4" r="4.2" fill="#bc2028"/>
<circle cx="398.0" cy="167.4" r="4.2" fill="#bc2028"/>
<circle cx="404.5" cy="188.3" r="4.2" fill="#bc2028"/>
<circle cx="410.2" cy="193.3" r="4.2" fill="#bc2028"/>
<circle cx="426.4" cy="196.8" r="4.2" fill="#bc2028"/>
<circle cx="424.6" cy="205.9" r="4.2" fill="#bc2028"/>
<polyline points="326.60,149.25 446.00,169.57" fill="none" stroke="#39499f" stroke-width="1.8" stroke-dasharray="6 6.75" stroke-linecap="round"/>
<line x1="319.9" y1="137.3" x2="319.9" y2="144.0" stroke="#39499f" stroke-width="1.15"/><line x1="317.6" y1="137.3" x2="322.2" y2="137.3" stroke="#39499f" stroke-width="1.15"/><line x1="319.9" y1="144.0" x2="319.9" y2="149.8" stroke="#39499f" stroke-width="1.15"/><line x1="317.6" y1="149.8" x2="322.2" y2="149.8" stroke="#39499f" stroke-width="1.15"/>
<line x1="343.5" y1="135.5" x2="343.5" y2="142.2" stroke="#39499f" stroke-width="1.15"/><line x1="341.2" y1="135.5" x2="345.8" y2="135.5" stroke="#39499f" stroke-width="1.15"/><line x1="343.5" y1="142.2" x2="343.5" y2="148.7" stroke="#39499f" stroke-width="1.15"/><line x1="341.2" y1="148.7" x2="345.8" y2="148.7" stroke="#39499f" stroke-width="1.15"/>

<line x1="393.4" y1="174.6" x2="393.4" y2="186.0" stroke="#39499f" stroke-width="1.15"/><line x1="391.1" y1="174.6" x2="395.7" y2="174.6" stroke="#39499f" stroke-width="1.15"/><line x1="393.4" y1="186.0" x2="393.4" y2="197.3" stroke="#39499f" stroke-width="1.15"/><line x1="391.1" y1="197.3" x2="395.7" y2="197.3" stroke="#39499f" stroke-width="1.15"/>
<line x1="401.2" y1="156.5" x2="401.2" y2="160.8" stroke="#39499f" stroke-width="1.15"/><line x1="398.9" y1="156.5" x2="403.5" y2="156.5" stroke="#39499f" stroke-width="1.15"/>
<line x1="406.0" y1="164.8" x2="406.0" y2="172.8" stroke="#39499f" stroke-width="1.15"/><line x1="403.7" y1="172.8" x2="408.3" y2="172.8" stroke="#39499f" stroke-width="1.15"/>
<line x1="412.8" y1="151.0" x2="412.8" y2="164.3" stroke="#39499f" stroke-width="1.15"/><line x1="410.5" y1="151.0" x2="415.1" y2="151.0" stroke="#39499f" stroke-width="1.15"/><line x1="412.8" y1="164.3" x2="412.8" y2="177.1" stroke="#39499f" stroke-width="1.15"/><line x1="410.5" y1="177.1" x2="415.1" y2="177.1" stroke="#39499f" stroke-width="1.15"/>
<line x1="420.4" y1="162.4" x2="420.4" y2="170.2" stroke="#39499f" stroke-width="1.15"/><line x1="418.1" y1="170.2" x2="422.7" y2="170.2" stroke="#39499f" stroke-width="1.15"/>


<line x1="454.0" y1="165.7" x2="454.0" y2="170.2" stroke="#39499f" stroke-width="1.15"/><line x1="451.7" y1="170.2" x2="456.3" y2="170.2" stroke="#39499f" stroke-width="1.15"/>
<circle cx="319.9" cy="144.0" r="4.2" fill="#39499f"/>
<circle cx="343.5" cy="142.2" r="4.2" fill="#39499f"/>
<circle cx="371.3" cy="160.6" r="4.2" fill="#39499f"/>
<circle cx="393.4" cy="186.0" r="4.2" fill="#39499f"/>
<circle cx="401.2" cy="160.8" r="4.2" fill="#39499f"/>
<circle cx="406.0" cy="164.8" r="4.2" fill="#39499f"/>
<circle cx="412.8" cy="164.3" r="4.2" fill="#39499f"/>
<circle cx="420.4" cy="162.4" r="4.2" fill="#39499f"/>
<circle cx="426.5" cy="157.0" r="4.2" fill="#39499f"/>
<circle cx="426.5" cy="166.2" r="4.2" fill="#39499f"/>
<circle cx="454.0" cy="165.7" r="4.2" fill="#39499f"/>
<polyline points="317.00,129.06 477.50,158.72" fill="none" stroke="#d67e2c" stroke-width="1.8" stroke-dasharray="6 6.86" stroke-linecap="round"/>
<line x1="310.8" y1="100.3" x2="310.8" y2="130.3" stroke="#d67e2c" stroke-width="1.15"/><line x1="308.5" y1="100.3" x2="313.1" y2="100.3" stroke="#d67e2c" stroke-width="1.15"/><line x1="310.8" y1="130.3" x2="310.8" y2="159.7" stroke="#d67e2c" stroke-width="1.15"/><line x1="308.5" y1="159.7" x2="313.1" y2="159.7" stroke="#d67e2c" stroke-width="1.15"/>
<line x1="333.0" y1="132.0" x2="333.0" y2="142.8" stroke="#d67e2c" stroke-width="1.15"/><line x1="330.7" y1="132.0" x2="335.3" y2="132.0" stroke="#d67e2c" stroke-width="1.15"/><line x1="333.0" y1="142.8" x2="333.0" y2="152.6" stroke="#d67e2c" stroke-width="1.15"/><line x1="330.7" y1="152.6" x2="335.3" y2="152.6" stroke="#d67e2c" stroke-width="1.15"/>

<line x1="355.2" y1="139.2" x2="355.2" y2="145.3" stroke="#d67e2c" stroke-width="1.15"/><line x1="352.9" y1="145.3" x2="357.5" y2="145.3" stroke="#d67e2c" stroke-width="1.15"/>
<line x1="383.9" y1="130.7" x2="383.9" y2="137.2" stroke="#d67e2c" stroke-width="1.15"/><line x1="381.6" y1="130.7" x2="386.2" y2="130.7" stroke="#d67e2c" stroke-width="1.15"/>






<line x1="444.2" y1="164.2" x2="444.2" y2="169.5" stroke="#d67e2c" stroke-width="1.15"/><line x1="441.9" y1="169.5" x2="446.5" y2="169.5" stroke="#d67e2c" stroke-width="1.15"/>

<circle cx="310.8" cy="130.3" r="4.2" fill="#d67e2c"/>
<circle cx="333.0" cy="142.8" r="4.2" fill="#d67e2c"/>
<circle cx="358.9" cy="127.2" r="4.2" fill="#d67e2c"/>
<circle cx="355.2" cy="139.2" r="4.2" fill="#d67e2c"/>
<circle cx="383.9" cy="137.2" r="4.2" fill="#d67e2c"/>
<circle cx="398.8" cy="144.4" r="4.2" fill="#d67e2c"/>
<circle cx="417.0" cy="145.3" r="4.2" fill="#d67e2c"/>
<circle cx="419.3" cy="153.6" r="4.2" fill="#d67e2c"/>
<circle cx="425.3" cy="149.8" r="4.2" fill="#d67e2c"/>
<circle cx="422.9" cy="137.0" r="4.2" fill="#d67e2c"/>
<circle cx="435.8" cy="140.5" r="4.2" fill="#d67e2c"/>
<circle cx="444.2" cy="164.2" r="4.2" fill="#d67e2c"/>
<circle cx="455.6" cy="160.4" r="4.2" fill="#d67e2c"/>
<path d="M302.91,68.40 L303.32,69.15 L303.74,69.90 L304.17,70.64 L304.60,71.38 L305.03,72.12 L305.47,72.86 L305.91,73.59M311.46,81.93 L311.97,82.62 L312.48,83.31 L312.99,83.99 L313.51,84.68 L314.04,85.35 L314.57,86.03 L315.10,86.70M321.48,93.97 L322.08,94.59 L322.68,95.20 L323.28,95.81 L323.89,96.42 L324.50,97.02 L325.12,97.61 L325.74,98.20M332.78,104.34 L333.45,104.88 L334.12,105.41 L334.80,105.93 L335.48,106.45 L336.16,106.97 L336.85,107.48 L337.54,107.99M345.00,113.05 L345.72,113.50 L346.45,113.95 L347.18,114.40 L347.92,114.84 L348.65,115.28 L349.39,115.71 L350.13,116.14M357.76,120.27 L358.53,120.65 L359.29,121.04 L360.06,121.42 L360.83,121.79 L361.61,122.16 L362.38,122.53 L363.16,122.90M370.78,126.27 L371.57,126.60 L372.36,126.93 L373.15,127.25 L373.95,127.57 L374.75,127.89 L375.54,128.20 L376.34,128.52M383.84,131.30 L384.65,131.59 L385.46,131.87 L386.27,132.15 L387.08,132.43 L387.89,132.70 L388.70,132.98 L389.52,133.25M396.82,135.58 L397.64,135.83 L398.46,136.07 L399.28,136.32 L400.10,136.56 L400.92,136.81 L401.75,137.05 L402.57,137.29M409.63,139.25 L410.45,139.48 L411.28,139.70 L412.11,139.92 L412.94,140.13 L413.77,140.35 L414.60,140.56 L415.43,140.78M422.22,142.46 L423.05,142.66 L423.88,142.86 L424.72,143.06 L425.55,143.25 L426.39,143.45 L427.22,143.64 L428.06,143.84M434.55,145.29 L435.39,145.47 L436.23,145.66 L437.06,145.84 L437.90,146.01 L438.74,146.19 L439.58,146.37 L440.42,146.55M446.61,147.81 L447.45,147.98 L448.29,148.15 L449.13,148.32 L449.97,148.48 L450.81,148.64 L451.65,148.81 L452.50,148.97M458.37,150.08 L459.22,150.24 L460.06,150.39 L460.90,150.55 L461.75,150.70 L462.59,150.86 L463.43,151.01 L464.28,151.16M469.84,152.14 L470.68,152.29 L471.53,152.43 L472.37,152.58 L473.22,152.72 L474.06,152.86 L474.91,153.01 L475.75,153.15" fill="none" stroke="#32712a" stroke-width="1.8" stroke-linecap="round"/>
<line x1="300.2" y1="34.9" x2="300.2" y2="74.7" stroke="#32712a" stroke-width="1.15"/><line x1="297.9" y1="34.9" x2="302.6" y2="34.9" stroke="#32712a" stroke-width="1.15"/><line x1="300.2" y1="74.7" x2="300.2" y2="113.9" stroke="#32712a" stroke-width="1.15"/><line x1="297.9" y1="113.9" x2="302.6" y2="113.9" stroke="#32712a" stroke-width="1.15"/>
<line x1="312.0" y1="69.6" x2="312.0" y2="90.5" stroke="#32712a" stroke-width="1.15"/><line x1="309.7" y1="69.6" x2="314.3" y2="69.6" stroke="#32712a" stroke-width="1.15"/><line x1="312.0" y1="90.5" x2="312.0" y2="111.4" stroke="#32712a" stroke-width="1.15"/><line x1="309.7" y1="111.4" x2="314.3" y2="111.4" stroke="#32712a" stroke-width="1.15"/>
<line x1="330.3" y1="88.2" x2="330.3" y2="95.8" stroke="#32712a" stroke-width="1.15"/><line x1="328.0" y1="88.2" x2="332.6" y2="88.2" stroke="#32712a" stroke-width="1.15"/><line x1="330.3" y1="95.8" x2="330.3" y2="103.8" stroke="#32712a" stroke-width="1.15"/><line x1="328.0" y1="103.8" x2="332.6" y2="103.8" stroke="#32712a" stroke-width="1.15"/>
<line x1="339.4" y1="82.7" x2="339.4" y2="96.6" stroke="#32712a" stroke-width="1.15"/><line x1="337.1" y1="82.7" x2="341.7" y2="82.7" stroke="#32712a" stroke-width="1.15"/><line x1="339.4" y1="96.6" x2="339.4" y2="110.7" stroke="#32712a" stroke-width="1.15"/><line x1="337.1" y1="110.7" x2="341.7" y2="110.7" stroke="#32712a" stroke-width="1.15"/>
<line x1="356.8" y1="104.2" x2="356.8" y2="116.8" stroke="#32712a" stroke-width="1.15"/><line x1="354.5" y1="104.2" x2="359.1" y2="104.2" stroke="#32712a" stroke-width="1.15"/>

<line x1="373.6" y1="95.2" x2="373.6" y2="113.6" stroke="#32712a" stroke-width="1.15"/><line x1="371.3" y1="95.2" x2="375.9" y2="95.2" stroke="#32712a" stroke-width="1.15"/><line x1="373.6" y1="113.6" x2="373.6" y2="125.2" stroke="#32712a" stroke-width="1.15"/><line x1="371.3" y1="125.2" x2="375.9" y2="125.2" stroke="#32712a" stroke-width="1.15"/>
<line x1="379.7" y1="103.6" x2="379.7" y2="116.8" stroke="#32712a" stroke-width="1.15"/><line x1="377.4" y1="103.6" x2="382.0" y2="103.6" stroke="#32712a" stroke-width="1.15"/><line x1="379.7" y1="116.8" x2="379.7" y2="125.2" stroke="#32712a" stroke-width="1.15"/><line x1="377.4" y1="125.2" x2="382.0" y2="125.2" stroke="#32712a" stroke-width="1.15"/>
<line x1="375.1" y1="130.0" x2="375.1" y2="135.3" stroke="#32712a" stroke-width="1.15"/><line x1="372.8" y1="135.3" x2="377.4" y2="135.3" stroke="#32712a" stroke-width="1.15"/>
<line x1="409.0" y1="120.0" x2="409.0" y2="128.3" stroke="#32712a" stroke-width="1.15"/><line x1="406.7" y1="120.0" x2="411.3" y2="120.0" stroke="#32712a" stroke-width="1.15"/><line x1="409.0" y1="128.3" x2="409.0" y2="136.7" stroke="#32712a" stroke-width="1.15"/><line x1="406.7" y1="136.7" x2="411.3" y2="136.7" stroke="#32712a" stroke-width="1.15"/>
<line x1="420.3" y1="131.8" x2="420.3" y2="136.0" stroke="#32712a" stroke-width="1.15"/><line x1="418.0" y1="131.8" x2="422.6" y2="131.8" stroke="#32712a" stroke-width="1.15"/><line x1="420.3" y1="136.0" x2="420.3" y2="140.0" stroke="#32712a" stroke-width="1.15"/><line x1="418.0" y1="140.0" x2="422.6" y2="140.0" stroke="#32712a" stroke-width="1.15"/>

<line x1="436.3" y1="144.0" x2="436.3" y2="149.0" stroke="#32712a" stroke-width="1.15"/><line x1="434.0" y1="149.0" x2="438.6" y2="149.0" stroke="#32712a" stroke-width="1.15"/>

<line x1="461.2" y1="151.2" x2="461.2" y2="157.1" stroke="#32712a" stroke-width="1.15"/><line x1="458.9" y1="151.2" x2="463.5" y2="151.2" stroke="#32712a" stroke-width="1.15"/>
<line x1="466.3" y1="127.9" x2="466.3" y2="133.0" stroke="#32712a" stroke-width="1.15"/><line x1="464.0" y1="127.9" x2="468.6" y2="127.9" stroke="#32712a" stroke-width="1.15"/><line x1="466.3" y1="133.0" x2="466.3" y2="137.3" stroke="#32712a" stroke-width="1.15"/><line x1="464.0" y1="137.3" x2="468.6" y2="137.3" stroke="#32712a" stroke-width="1.15"/>

<circle cx="300.2" cy="74.7" r="4.2" fill="#32712a"/>
<circle cx="312.0" cy="90.5" r="4.2" fill="#32712a"/>
<circle cx="330.3" cy="95.8" r="4.2" fill="#32712a"/>
<circle cx="339.4" cy="96.6" r="4.2" fill="#32712a"/>
<circle cx="356.8" cy="116.8" r="4.2" fill="#32712a"/>
<circle cx="355.2" cy="134.7" r="4.2" fill="#32712a"/>
<circle cx="373.6" cy="113.6" r="4.2" fill="#32712a"/>
<circle cx="379.7" cy="116.8" r="4.2" fill="#32712a"/>
<circle cx="375.1" cy="130.0" r="4.2" fill="#32712a"/>
<circle cx="409.0" cy="128.3" r="4.2" fill="#32712a"/>
<circle cx="420.3" cy="136.0" r="4.2" fill="#32712a"/>
<circle cx="425.2" cy="143.4" r="4.2" fill="#32712a"/>
<circle cx="436.3" cy="144.0" r="4.2" fill="#32712a"/>
<circle cx="446.6" cy="155.7" r="4.2" fill="#32712a"/>
<circle cx="461.2" cy="157.1" r="4.2" fill="#32712a"/>
<circle cx="466.3" cy="133.0" r="4.2" fill="#32712a"/>
<circle cx="466.3" cy="168.0" r="4.2" fill="#32712a"/>
</svg></body></html>
